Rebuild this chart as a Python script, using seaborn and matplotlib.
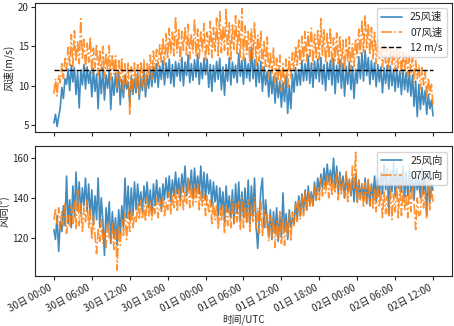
"""Wind speed / direction comparison, runway 25 vs 07."""

import matplotlib as mpl
mpl.use("Agg")
import matplotlib.pyplot as plt
import matplotlib.dates as mdates
import pandas as pd
import seaborn as sns

START = "2023-11-30 00:00"
STEP = "15min"
THRESHOLD = 12

# 15-minute samples, one row per hour (:00 :15 :30 :45), last value = 60:00
ws25 = [
    5.3, 6.4, 4.85, 6.1,   7.2, 9.8, 8.4, 10.9,   10.2, 12.1, 9.4, 12.6,
    10.5, 12.3, 8.9, 11.8,  7.2, 12.0, 10.1, 12.7,  9.6, 12.4, 10.3, 11.9,
    8.6, 12.2, 9.3, 11.5,   7.1, 11.8, 9.0, 12.3,   8.2, 11.4, 9.7, 12.0,
    7.0, 11.1, 8.8, 11.6,   9.2, 11.9, 7.6, 10.8,   8.5, 11.3, 9.6, 10.5,
    7.7, 11.2, 8.9, 10.9,   9.1, 11.6, 8.3, 11.0,   9.4, 11.8, 8.6, 11.4,
    9.7, 12.1, 9.9, 12.4,   10.4, 12.8, 9.8, 12.5,  10.8, 13.2, 10.1, 12.9,
    11.0, 13.4, 10.3, 12.7, 9.9, 13.1, 11.2, 12.9,  10.6, 13.6, 10.0, 13.0,
    11.3, 13.9, 10.4, 12.8, 10.7, 13.3, 11.1, 14.0, 10.2, 12.9, 10.9, 13.5,
    11.4, 13.4, 9.8, 12.7,  9.3, 12.6, 10.5, 13.1,  10.8, 13.5, 9.5, 12.4,
    8.8, 12.7, 10.6, 13.6,  10.1, 13.0, 11.0, 12.6, 10.4, 14.1, 11.2, 13.2,
    10.2, 13.5, 11.0, 12.8, 10.6, 14.9, 10.9, 13.3, 9.9, 12.9, 10.4, 13.1,
    9.3, 12.4, 10.1, 11.8,  8.6, 11.9, 9.0, 11.2,   7.8, 11.0, 8.5, 10.6,
    7.3, 10.4, 8.0, 11.2,   6.5, 10.1, 7.1, 11.5,   9.2, 12.3, 10.0, 12.1,
    10.1, 13.2, 10.6, 12.8, 10.7, 13.8, 10.3, 12.9, 9.8, 13.1, 10.9, 13.4,
    10.5, 13.6, 10.2, 12.7, 9.4, 13.0, 10.8, 13.2,  10.1, 13.5, 9.0, 12.6,
    10.4, 13.3, 9.7, 12.8,  8.7, 12.5, 10.2, 13.0,  9.5, 12.4, 8.4, 12.1,
    10.3, 13.7, 10.9, 14.2, 10.6, 14.5, 11.3, 13.6, 10.2, 13.2, 10.8, 12.9,
    9.9, 12.7, 10.5, 12.4,  9.1, 12.3, 10.3, 12.6,  9.6, 12.5, 10.0, 12.1,
    9.3, 12.2, 9.8, 11.9,   8.9, 12.0, 9.5, 11.7,   9.2, 11.8, 8.7, 11.4,
    7.4, 10.6, 6.1, 10.2,   7.0, 9.8, 7.6, 9.4,     6.4, 8.9, 7.1, 8.2,
    6.2,
]

ws07 = [
    9.0, 10.9, 8.7, 11.3,   10.4, 12.8, 10.9, 13.5, 12.0, 14.9, 12.6, 16.5,
    12.4, 17.0, 13.1, 15.6, 12.8, 18.5, 13.5, 15.9, 12.2, 15.4, 13.0, 16.2,
    11.6, 14.8, 12.3, 15.3, 11.3, 14.6, 12.0, 15.0, 11.0, 14.2, 11.8, 15.1,
    10.7, 14.0, 11.5, 13.8, 9.8, 13.2, 10.5, 13.6,  9.3, 12.8, 10.2, 13.0,
    6.3, 12.4, 9.1, 12.9,   9.6, 12.7, 8.9, 13.1,   10.0, 13.4, 9.5, 12.8,
    11.1, 13.9, 10.8, 14.4, 11.9, 14.6, 12.5, 15.2, 13.0, 16.1, 12.7, 16.6,
    13.4, 17.3, 14.0, 16.8, 13.8, 18.8, 14.2, 17.1, 13.2, 16.9, 14.5, 17.5,
    13.9, 17.8, 13.4, 16.6, 14.1, 18.5, 13.7, 17.2, 13.5, 17.0, 14.3, 17.9,
    13.1, 16.8, 14.0, 18.2, 13.6, 17.4, 14.4, 18.6, 13.8, 19.4, 14.2, 17.6,
    14.5, 19.7, 13.9, 18.0, 13.3, 17.7, 14.6, 18.9, 14.1, 18.3, 13.6, 19.8,
    13.2, 17.6, 14.0, 16.9, 12.9, 17.3, 13.5, 18.1, 12.6, 16.4, 13.1, 17.0,
    11.8, 15.6, 12.4, 16.2, 11.0, 14.3, 11.6, 14.8, 9.9, 13.5, 10.6, 13.9,
    9.3, 12.8, 10.1, 13.4,  9.8, 13.6, 10.9, 14.2,  11.9, 15.1, 12.6, 15.8,
    12.8, 16.3, 13.2, 16.9, 13.1, 16.8, 13.7, 17.3, 12.7, 16.5, 13.4, 17.0,
    13.3, 18.5, 13.9, 17.1, 12.9, 16.6, 13.5, 17.4, 12.5, 16.1, 13.2, 16.7,
    12.8, 16.4, 12.3, 15.8, 12.1, 15.9, 13.0, 16.2, 11.7, 15.3, 12.4, 16.0,
    13.6, 17.2, 14.1, 18.4, 14.3, 19.0, 14.8, 17.9, 13.9, 17.4, 13.4, 16.8,
    12.8, 15.9, 13.3, 15.4, 12.4, 15.2, 12.9, 14.9, 12.1, 15.0, 12.6, 14.7,
    11.8, 14.6, 12.3, 14.4, 11.5, 14.3, 12.0, 14.1, 11.2, 13.9, 11.7, 13.6,
    10.4, 13.2, 10.9, 12.7, 9.6, 12.3, 10.1, 11.8,  8.4, 11.0, 8.9, 10.2,
    7.4,
]

wd25 = [
    124, 119, 131, 113,   128, 123, 136, 126,   151, 127, 139, 125,
    146, 131, 153, 134,   148, 132, 145, 136,   150, 133, 147, 131,
    144, 127, 141, 129,   150, 125, 140, 128,   111, 135, 124, 138,
    117, 133, 120, 130,   116, 134, 122, 136,   125, 150, 130, 146,
    129, 145, 131, 148,   134, 147, 136, 143,   133, 146, 137, 148,
    135, 144, 132, 147,   136, 149, 138, 145,   134, 147, 139, 150,
    140, 151, 138, 149,   141, 153, 142, 150,   139, 152, 143, 156,
    141, 150, 144, 154,   140, 155, 143, 151,   142, 156, 140, 153,
    139, 152, 142, 149,   136, 148, 138, 146,   131, 145, 134, 143,
    128, 146, 133, 141,   130, 144, 127, 147,   132, 148, 129, 143,
    130, 145, 128, 149,   127, 146, 131, 150,   126, 114.5, 130, 144,
    150, 125, 139, 128,   121, 134, 119, 133,   122, 135, 118, 131,
    120, 142.5, 123, 132, 119, 134, 125, 130,   127, 138, 129, 141,
    131, 142, 133, 144,   134, 146, 137, 143,   136, 148, 139, 150,
    143, 152, 145, 155,   146, 157, 148, 154,   147, 160, 145, 156,
    142, 153, 144, 151,   140, 152, 143, 149,   141, 150, 138, 152,
    138, 149, 140, 147,   139, 150, 137, 148,   136, 147, 140, 151,
    138, 150, 141, 153,   142, 157, 144, 155,   132, 154, 143, 158,
    141, 155, 145, 152,   143, 156, 140, 153,   141, 154, 143, 151,
    139, 153, 144, 150,   140, 155, 142, 152,   131, 150, 138, 147,
    144,
]

wd07 = [
    129, 134, 127, 135,   124, 133, 126, 137,   122, 131, 125, 136,
    127, 138, 124, 144,   126, 137, 123, 135,   128, 139, 125, 134,
    119, 131, 121, 112,   124, 118, 129, 117,   122, 115, 128, 120,
    117, 127, 114, 126,   103.5, 125, 116, 129, 121, 132, 119, 133,
    123, 135, 125, 131,   128, 137, 129, 139,   130, 136, 128, 140,
    131, 138, 129, 137,   132, 140, 130, 139,   133, 141, 131, 138,
    134, 143, 132, 142,   135, 145, 133, 144,   136, 146, 134, 143,
    137, 150, 135, 147,   136, 145, 138, 148,   134, 144, 136, 142,
    131, 141, 133, 139,   127, 138, 129, 136,   124, 135, 128, 137,
    122, 136, 126, 134,   125, 139, 127, 137,   128, 138, 124, 140,
    125, 137, 127, 139,   123, 136, 128, 140,   124, 135, 122, 138,
    121, 134, 125, 132,   118, 131, 120, 130,   115, 128, 119, 133,
    117, 130, 116, 129,   120, 132, 118, 133,   126, 137, 128, 139,
    129, 141, 131, 143,   133, 144, 135, 142,   136, 147, 138, 145,
    139, 150, 141, 148,   142, 152, 140, 151,   141, 150, 143, 153,
    139, 151, 142, 148,   140, 154, 138, 150,   141, 156, 144, 163,
    137, 149, 139, 147,   135, 148, 138, 150,   136, 146, 134, 145,
    133, 147, 136, 144,   130, 143, 132, 141,   131, 145, 129, 142,
    133, 146, 130, 148,   131, 144, 134, 142,   130, 145, 133, 147,
    137, 124, 140, 131,   132, 146, 135, 143,   130, 149, 134, 145,
    138,
]

times = pd.date_range(START, periods=len(ws25), freq=STEP)

sns.set_style("ticks")
plt.rcParams["font.family"] = ["Noto Sans CJK SC", "DejaVu Sans"]
plt.rcParams["axes.unicode_minus"] = False
plt.rcParams["font.size"] = 7
plt.rcParams["legend.fontsize"] = 7.5
plt.rcParams["xtick.major.pad"] = 1.5
plt.rcParams["ytick.major.pad"] = 1.5
plt.rcParams["xtick.major.size"] = 3
plt.rcParams["ytick.major.size"] = 3

fig, (ax1, ax2) = plt.subplots(2, 1, figsize=(4.54, 3.26), dpi=100, sharex=True)
fig.subplots_adjust(left=0.077, right=0.9956, top=0.992, bottom=0.153, hspace=0.108)

BLUE, ORANGE = "#1f77b4", "#ff7f0e"
LW = 1.2

# ── wind speed ────────────────────────────────────────────────────────────────
sns.lineplot(x=times, y=ws25, ax=ax1, color=BLUE, lw=LW, alpha=0.85, label="25风速")
sns.lineplot(x=times, y=ws07, ax=ax1, color=ORANGE, lw=LW, alpha=0.85,
             linestyle="-.", label="07风速")
sns.lineplot(x=times, y=[THRESHOLD] * len(times), ax=ax1, color="k", lw=1.0,
             linestyle="--", label=f"{THRESHOLD} m/s")
ax1.set_ylabel("风速(m/s)", labelpad=2, fontsize=7.5)
ax1.legend(loc="upper right")

# ── wind direction ────────────────────────────────────────────────────────────
sns.lineplot(x=times, y=wd25, ax=ax2, color=BLUE, lw=LW, alpha=0.85, label="25风向")
sns.lineplot(x=times, y=wd07, ax=ax2, color=ORANGE, lw=LW, alpha=0.85,
             linestyle="-.", label="07风向")
ax2.set_ylabel("风向(°)", labelpad=2, fontsize=7.5)
ax2.set_xlabel("时间/UTC", labelpad=0.5)
ax2.legend(loc="upper right")

ax2.xaxis.set_major_locator(mdates.HourLocator(byhour=range(0, 24, 6)))
ax2.xaxis.set_major_formatter(mdates.DateFormatter("%d日 %H:%M"))
plt.setp(ax2.get_xticklabels(), rotation=28, ha="right")

fig.savefig("out.png", dpi=100)
plt.close(fig)
